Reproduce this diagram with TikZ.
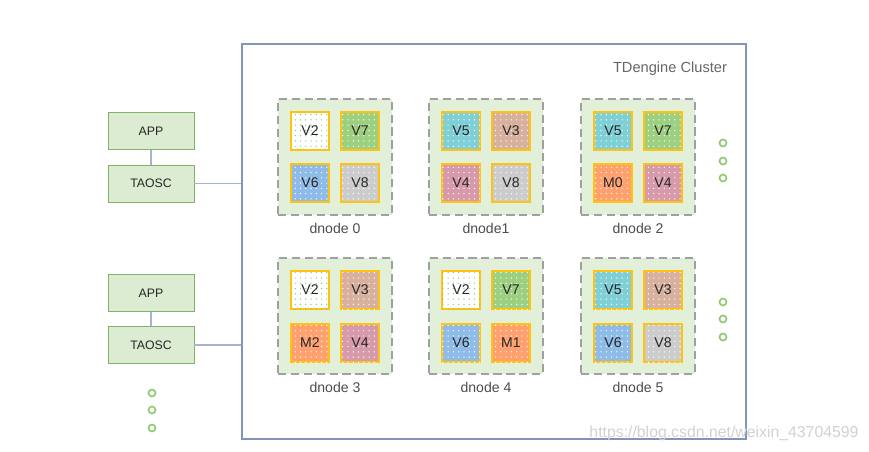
\documentclass[tikz,border=0pt]{standalone}
\usepackage{fontspec}
\setmainfont{Liberation Sans}
\usetikzlibrary{patterns.meta}

\definecolor{clusterline}{HTML}{8096B8}
\definecolor{linkline}{HTML}{A3B6CF}
\definecolor{clientline}{HTML}{82B366}
\definecolor{clientfill}{HTML}{DCECD2}
\definecolor{dnodeline}{HTML}{A0A0A0}
\definecolor{dnodefill}{HTML}{E3F0D9}
\definecolor{vnodeline}{HTML}{FFC20E}
\definecolor{dotgreen}{HTML}{8CCB6E}
\definecolor{vwhite}{HTML}{FFFFFF}
\definecolor{vgreen}{HTML}{9CCF80}
\definecolor{vblue}{HTML}{8EBBE8}
\definecolor{vgray}{HTML}{CCCCCC}
\definecolor{vcyan}{HTML}{7FCFD6}
\definecolor{vtan}{HTML}{D8B09E}
\definecolor{vpink}{HTML}{D69AAA}
\definecolor{morange}{HTML}{FFA06E}

\tikzset{
  cluster/.style={draw=clusterline, line width=1.6pt, minimum width=15.12cm, minimum height=11.85cm},
  client/.style={draw=clientline, fill=clientfill, line width=0.8pt, minimum width=2.58cm, minimum height=1.11cm, font=\fontsize{10.5}{12}\selectfont, text=black!85},
  dnodebox/.style={draw=dnodeline, fill=dnodefill, line width=1.6pt, dash pattern=on 7pt off 4pt, minimum width=3.42cm, minimum height=3.48cm},
  vnode/.style={draw=vnodeline, fill=#1, line width=1.1pt, minimum size=1.14cm, pattern color=white, postaction={pattern={Dots[distance=4.5pt, radius=0.6pt]}}, font=\fontsize{12}{14}\selectfont, text=black!85},
  dlabel/.style={font=\fontsize{12}{14}\selectfont, text=black!70},
  moredot/.style={circle, draw=dotgreen, line width=1.4pt, minimum size=0.21cm, inner sep=0pt},
  link/.style={draw=linkline, line width=1.1pt},
}

\begin{document}
\begin{tikzpicture}[x=0.03cm, y=-0.03cm]
\useasboundingbox (0,0) rectangle (869,452);

% cluster frame
\node[cluster] (cluster) at (494,241.5) {};
\node[font=\fontsize{12.5}{14}\selectfont, text=black!60] (ctitle) at (670,69) {TDengine Cluster};

% dnodes, first row
\node[dnodebox] (d0) at (335,157) {};
\node[dnodebox] (d1) at (486,157) {};
\node[dnodebox] (d2) at (638,157) {};
\node[dlabel] (l0) at (335,228) {dnode 0};
\node[dlabel] (l1) at (486,228) {dnode1};
\node[dlabel] (l2) at (638,228) {dnode 2};

% dnodes, second row
\node[dnodebox] (d3) at (335,316) {};
\node[dnodebox] (d4) at (486,316) {};
\node[dnodebox] (d5) at (638,316) {};
\node[dlabel] (l3) at (335,387) {dnode 3};
\node[dlabel] (l4) at (486,387) {dnode 4};
\node[dlabel] (l5) at (638,387) {dnode 5};

% vnodes and mnodes
\node[vnode=vwhite, pattern color=dotgreen] (d0a) at (310,131) {V2};
\node[vnode=vgreen] (d0b) at (360,131) {V7};
\node[vnode=vblue]  (d0c) at (310,183) {V6};
\node[vnode=vgray]  (d0d) at (360,183) {V8};

\node[vnode=vcyan]  (d1a) at (461,131) {V5};
\node[vnode=vtan]   (d1b) at (511,131) {V3};
\node[vnode=vpink]  (d1c) at (461,183) {V4};
\node[vnode=vgray]  (d1d) at (511,183) {V8};

\node[vnode=vcyan]   (d2a) at (613,131) {V5};
\node[vnode=vgreen]  (d2b) at (663,131) {V7};
\node[vnode=morange] (d2c) at (613,183) {M0};
\node[vnode=vpink]   (d2d) at (663,183) {V4};

\node[vnode=vwhite, pattern color=dotgreen] (d3a) at (310,290) {V2};
\node[vnode=vtan]    (d3b) at (360,290) {V3};
\node[vnode=morange] (d3c) at (310,343) {M2};
\node[vnode=vpink]   (d3d) at (360,343) {V4};

\node[vnode=vwhite, pattern color=dotgreen] (d4a) at (461,290) {V2};
\node[vnode=vgreen]  (d4b) at (511,290) {V7};
\node[vnode=vblue]   (d4c) at (461,343) {V6};
\node[vnode=morange] (d4d) at (511,343) {M1};

\node[vnode=vcyan]  (d5a) at (613,290) {V5};
\node[vnode=vtan]   (d5b) at (663,290) {V3};
\node[vnode=vblue]  (d5c) at (613,343) {V6};
\node[vnode=vgray]  (d5d) at (663,343) {V8};

% more dnodes
\node[moredot] (m0) at (723,143) {};
\node[moredot] (m1) at (723,161) {};
\node[moredot] (m2) at (723,178) {};
\node[moredot] (m3) at (723,302) {};
\node[moredot] (m4) at (723,319) {};
\node[moredot] (m5) at (723,337) {};

% clients
\node[client] (app0)   at (151,131)   {APP};
\node[client] (taosc0) at (151,183.5) {TAOSC};
\node[client] (app1)   at (151,293)   {APP};
\node[client] (taosc1) at (151,345)   {TAOSC};
\draw[link] (app0) -- (taosc0);
\draw[link] (app1) -- (taosc1);
\draw[link] (taosc0) -- (taosc0 -| cluster.west);
\draw[link] (taosc1) -- (taosc1 -| cluster.west);

% more clients
\node[moredot] (c0) at (152,393) {};
\node[moredot] (c1) at (152,410) {};
\node[moredot] (c2) at (152,428) {};

\node[font=\fontsize{13.5}{15}\selectfont, text=black!18] (mark) at (724,433) {https://blog.csdn.net/weixin\_43704599};
\end{tikzpicture}
\end{document}
